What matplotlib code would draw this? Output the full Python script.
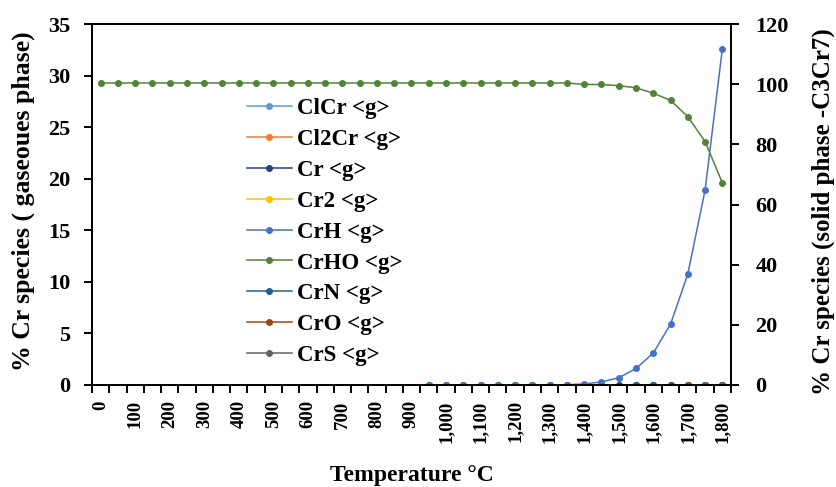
import matplotlib
matplotlib.use('Agg')
import matplotlib.pyplot as plt
import numpy as np

N = None
temperatures = [0, 50, 100, 150, 200, 250, 300, 350, 400, 450, 500, 550, 600, 650,
                700, 750, 800, 850, 900, 950, 1000, 1050, 1100, 1150, 1200, 1250,
                1300, 1350, 1400, 1450, 1500, 1550, 1600, 1650, 1700, 1750, 1800]
tick_labels = ['0', '100', '200', '300', '400', '500', '600', '700', '800', '900',
               '1,000', '1,100', '1,200', '1,300', '1,400', '1,500', '1,600',
               '1,700', '1,800']

# gaseous species (left axis)
clcr = [N, N, N, N, N, N, N, N, N, N, N, N, N, N, N, N, N, N, N,
        0, 0, 0, 0, 0, 0, 0, 0, 0, 0, 0, 0, 0, 0, 0, 0, 0, 0]
cl2cr = [N] * 37
cr = [N, N, N, N, N, N, N, N, N, N, N, N, N, N, N, N, N, N, N,
      0, 0, 0, 0, 0, 0, 0, 0, 0, 0, 0, 0, 0, 0, 0, 0, 0, 0]
cr2 = [N] * 37
crh = [N, N, N, N, N, N, N, N, N, N, N, N, N, N, N, N, N, N, N,
       0, 0, 0, 0, 0, 0, 0, 0.01, 0.03, 0.1, 0.3, 0.7, 1.6, 3.1, 5.9, 10.75, 18.9, 32.6]
crn = [N, N, N, N, N, N, N, N, N, N, N, N, N, N, N, N, N, N, N,
       N, N, N, N, N, N, N, N, N, N, N, N, 0, 0, 0, 0, 0, 0]
cro = [N, N, N, N, N, N, N, N, N, N, N, N, N, N, N, N, N, N, N,
       N, N, N, N, N, N, N, N, N, N, N, N, N, N, N, 0, 0, 0]
crs = [N, N, N, N, N, N, N, N, N, N, N, N, N, N, N, N, N, N, N,
       N, N, N, N, N, N, N, N, N, N, N, N, N, N, N, N, 0, 0]
# solid phase (right axis)
crho = [100.4, 100.4, 100.4, 100.4, 100.4, 100.4, 100.4, 100.4, 100.4, 100.4,
        100.4, 100.4, 100.4, 100.4, 100.4, 100.4, 100.4, 100.4, 100.4, 100.4,
        100.4, 100.4, 100.4, 100.4, 100.4, 100.4, 100.4, 100.4, 99.9, 99.9,
        99.5, 98.8, 97.0, 94.6, 89.2, 80.9, 67.2]

left_series = [
    ('ClCr <g>', clcr, '#5B9BD5'),
    ('Cl2Cr <g>', cl2cr, '#ED7D31'),
    ('Cr <g>', cr, '#264478'),
    ('Cr2 <g>', cr2, '#FFC000'),
    ('CrH <g>', crh, '#4472C4'),
    ('CrN <g>', crn, '#255E91'),
    ('CrO <g>', cro, '#9E480E'),
    ('CrS <g>', crs, '#636363'),
]

FONT = 'Liberation Serif'
plt.rcParams['font.family'] = FONT
plt.rcParams['font.weight'] = 'bold'

TOP, BOT, LEFT, RIGHT = 24, 385, 92, 731
fig = plt.figure(figsize=(8.37, 4.87), dpi=100)
ax = fig.add_axes([LEFT / 837, 1 - BOT / 487, (RIGHT - LEFT) / 837, (BOT - TOP) / 487])
ax2 = ax.twinx()

x = np.arange(len(temperatures))

def to_arr(v):
    return np.array([np.nan if a is None else a for a in v], dtype=float)

handles = {}
for name, vals, col in left_series:
    h, = ax.plot(x, to_arr(vals), color=col, lw=1.1, marker='o', ms=4,
                 label=name)
    handles[name] = h
h, = ax2.plot(x, to_arr(crho), color='#548235', lw=1.1, marker='o', ms=4,
              label='CrHO <g>')
handles['CrHO <g>'] = h

order = ['ClCr <g>', 'Cl2Cr <g>', 'Cr <g>', 'Cr2 <g>', 'CrH <g>', 'CrHO <g>',
         'CrN <g>', 'CrO <g>', 'CrS <g>']

ax.set_xlim(-0.5, len(temperatures) - 0.5)
ax.set_ylim(0, 35)
ax2.set_ylim(0, 120)
ax.set_yticks(np.arange(0, 36, 5))
ax2.set_yticks(np.arange(0, 121, 20))

ax.set_xticks(np.arange(-0.5, len(temperatures), 1.0))
ax.set_xticklabels([])
ax.set_xticks(x[::2], minor=True)
ax.set_xticklabels(tick_labels, minor=True, rotation=90, fontsize=13.5,
                   fontweight='bold')
ax.tick_params(axis='x', which='major', direction='out', length=5.5, width=1.4)
ax.tick_params(axis='x', which='minor', length=0, pad=11)
ax.tick_params(axis='y', direction='out', length=5.5, width=1.4, labelsize=16, pad=10)
ax2.tick_params(axis='y', direction='out', length=5.5, width=1.4, labelsize=16, pad=12)

for a in (ax, ax2):
    for s in a.spines.values():
        s.set_linewidth(1.3)
        s.set_color('black')

H = BOT - TOP
ax.set_ylabel('% Cr species ( gaseoues phase)', fontsize=18.5, fontweight='bold')
ax.yaxis.set_label_coords((23 - LEFT) / (RIGHT - LEFT), (BOT - 201) / H)
ax2.set_ylabel('% Cr species (solid phase -C3Cr7)', fontsize=18,
               fontweight='bold')
ax2.yaxis.set_label_coords((823 - LEFT) / (RIGHT - LEFT), (BOT - 212) / H)
ax2.yaxis.label.set_va('center')
ax.yaxis.label.set_va('center')
ax.set_xlabel('Temperature °C', fontsize=17, fontweight='bold')
ax.xaxis.set_label_coords((412 - LEFT) / (RIGHT - LEFT), (BOT - 476) / H)
ax.xaxis.label.set_va('center')

leg = ax2.legend([handles[k] for k in order], order, loc='upper left',
                 bbox_to_anchor=(247 / 837, 1 - 98 / 487),
                 bbox_transform=fig.transFigure, frameon=False,
                 prop={'family': FONT, 'weight': 'bold', 'size': 16.5},
                 handlelength=1.95, handletextpad=0.25, labelspacing=0.43,
                 borderpad=0, borderaxespad=0)

fig.savefig('out.png', dpi=100)
